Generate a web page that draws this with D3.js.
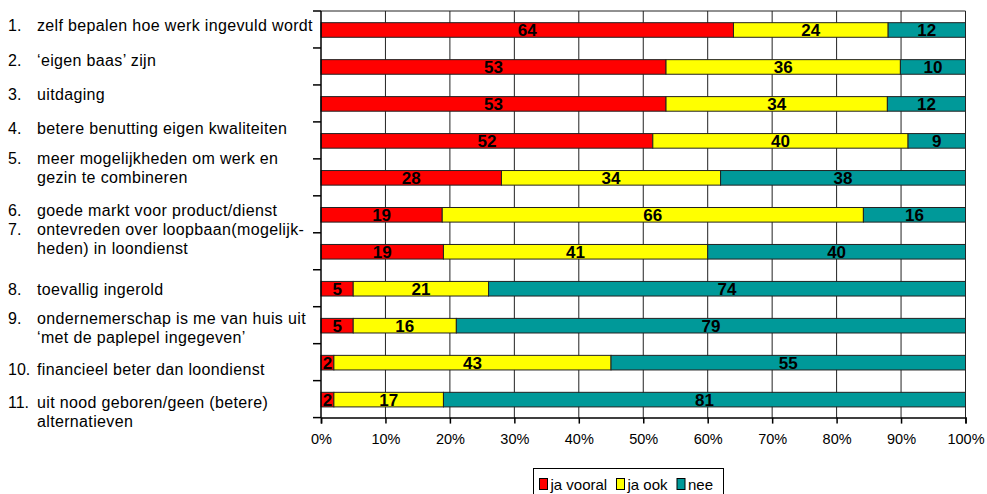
<!DOCTYPE html>
<html>
<head>
<meta charset="utf-8">
<script src="https://cdn.jsdelivr.net/npm/d3@7"></script>
<style>
  body { margin: 0; background: #fff; }
  svg { font-family: Arial, "Liberation Sans", sans-serif; }
</style>
</head>
<body>
<div id="chart"></div>
<script>
var categories = ["1", "2", "3", "4", "5", "6", "7", "8", "9", "10", "11"]
var labels = [
  ["zelf bepalen hoe werk ingevuld wordt"],
  ["\u2018eigen baas\u2019 zijn"],
  ["uitdaging"],
  ["betere benutting eigen kwaliteiten"],
  ["meer mogelijkheden om werk en", "gezin te combineren"],
  ["goede markt voor product/dienst"],
  ["ontevreden over loopbaan(mogelijk-", "heden) in loondienst"],
  ["toevallig ingerold"],
  ["ondernemerschap is me van huis uit", "\u2018met de paplepel ingegeven\u2019"],
  ["financieel beter dan loondienst"],
  ["uit nood geboren/geen (betere)", "alternatieven"]
]
var jaVooral = [64, 53, 53, 52, 28, 19, 19, 5, 5, 2, 2]
var jaOok = [24, 36, 34, 40, 34, 66, 41, 21, 16, 43, 17]
var nee = [12, 10, 12, 9, 38, 16, 40, 74, 79, 55, 81]
var seriesNames = ["ja vooral", "ja ook", "nee"]
var xTicks = [0, 10, 20, 30, 40, 50, 60, 70, 80, 90, 100]

// baseline of the first line of each left label (separate text box in the original)
var labelBaseline = [31, 66, 100, 134, 164, 216, 235, 295, 324, 375, 408]

var width = 987, height = 494
var plot = { left: 321, right: 965.5, top: 11, bottom: 417.6 }
var colors = ["#ff0000", "#ffff00", "#009999"]

var svg = d3.select("#chart")
  .append("svg")
  .attr("width", width)
  .attr("height", height)

var x = d3.scaleLinear()
  .domain([0, 100])
  .range([plot.left, plot.right])

var y = d3.scaleBand()
  .domain(categories)
  .range([plot.top, plot.bottom])

var bw = y.bandwidth()
var barOff = bw * 0.316, barH = bw * 0.395

// vertical grid lines
svg.append("g")
  .selectAll("line")
  .data(xTicks.slice(1))
  .enter()
  .append("line")
  .attr("x1", function (d) { return x(d) })
  .attr("x2", function (d) { return x(d) })
  .attr("y1", plot.top)
  .attr("y2", plot.bottom)
  .attr("stroke", "#222")
  .attr("stroke-width", 1)

// top border
svg.append("line")
  .attr("x1", plot.left).attr("x2", plot.right)
  .attr("y1", plot.top).attr("y2", plot.top)
  .attr("stroke", "#222")

// stacked data, each row scaled to 100%
var rows = categories.map(function (c, i) {
  return { cat: c, values: [jaVooral[i], jaOok[i], nee[i]] }
})

var segs = []
rows.forEach(function (r) {
  var total = d3.sum(r.values)
  var acc = 0
  r.values.forEach(function (v, k) {
    var p = v / total * 100
    segs.push({ cat: r.cat, k: k, v: v, x0: acc, x1: acc + p })
    acc += p
  })
})

svg.append("g")
  .selectAll("rect")
  .data(segs)
  .enter()
  .append("rect")
  .attr("x", function (d) { return x(d.x0) })
  .attr("width", function (d) { return x(d.x1) - x(d.x0) })
  .attr("y", function (d) { return y(d.cat) + barOff })
  .attr("height", barH)
  .attr("fill", function (d) { return colors[d.k] })
  .attr("stroke", "#222")
  .attr("stroke-width", 1)

svg.append("g")
  .selectAll("text")
  .data(segs)
  .enter()
  .append("text")
  .attr("x", function (d) { return (x(d.x0) + x(d.x1)) / 2 })
  .attr("y", function (d) { return y(d.cat) + barOff + barH / 2 + 6 })
  .attr("text-anchor", "middle")
  .attr("font-size", 17)
  .attr("font-weight", "bold")
  .attr("fill", "#000")
  .text(function (d) { return d.v })

// left axis with ticks at band edges
var edges = categories.map(function (c) { return y(c) }).concat([plot.bottom])
svg.append("line")
  .attr("x1", plot.left).attr("x2", plot.left)
  .attr("y1", plot.top).attr("y2", plot.bottom)
  .attr("stroke", "#000").attr("stroke-width", 1.5)
svg.append("g")
  .selectAll("line")
  .data(edges)
  .enter()
  .append("line")
  .attr("x1", plot.left - 8).attr("x2", plot.left)
  .attr("y1", function (d) { return d }).attr("y2", function (d) { return d })
  .attr("stroke", "#000").attr("stroke-width", 1.5)

// bottom axis
var xAxis = svg.append("g")
  .attr("transform", "translate(0," + plot.bottom + ")")
  .call(d3.axisBottom(x)
    .tickValues(xTicks)
    .tickSize(6)
    .tickPadding(10)
    .tickFormat(function (d) { return d + "%" }))
xAxis.select(".domain").attr("stroke", "#000").attr("stroke-width", 1.5)
xAxis.selectAll(".tick line").attr("stroke", "#000").attr("stroke-width", 1.5)
xAxis.selectAll(".tick text")
  .attr("font-size", 14.5)
  .attr("font-family", "Arial, 'Liberation Sans', sans-serif")
  .attr("fill", "#000")

// left labels
var lab = svg.append("g")
  .selectAll("g")
  .data(labels)
  .enter()
  .append("g")
lab.append("text")
  .attr("x", 8)
  .attr("y", function (d, i) { return labelBaseline[i] })
  .attr("font-size", 16)
  .attr("fill", "#000")
  .text(function (d, i) { return categories[i] + "." })
lab.each(function (lines, i) {
  d3.select(this).selectAll("text.line")
    .data(lines)
    .enter()
    .append("text")
    .attr("class", "line")
    .attr("x", 37)
    .attr("y", function (d, j) { return labelBaseline[i] + j * 19 })
    .attr("font-size", 16)
    .attr("letter-spacing", 0.35)
    .attr("fill", "#000")
    .text(function (d) { return d })
})

// legend
var legend = svg.append("g")
legend.append("rect")
  .attr("x", 533.5).attr("y", 468.5)
  .attr("width", 190).attr("height", 30)
  .attr("fill", "#fff").attr("stroke", "#000")
var legX = [539.5, 616.5, 677]
var item = legend.selectAll("g.item")
  .data(seriesNames)
  .enter()
  .append("g")
  .attr("transform", function (d, i) { return "translate(" + legX[i] + ",478.5)" })
item.append("rect")
  .attr("width", 8).attr("height", 11)
  .attr("fill", function (d, i) { return colors[i] })
  .attr("stroke", "#000")
item.append("text")
  .attr("x", 11).attr("y", 11)
  .attr("font-size", 15)
  .attr("fill", "#000")
  .text(function (d) { return d })
</script>
</body>
</html>
